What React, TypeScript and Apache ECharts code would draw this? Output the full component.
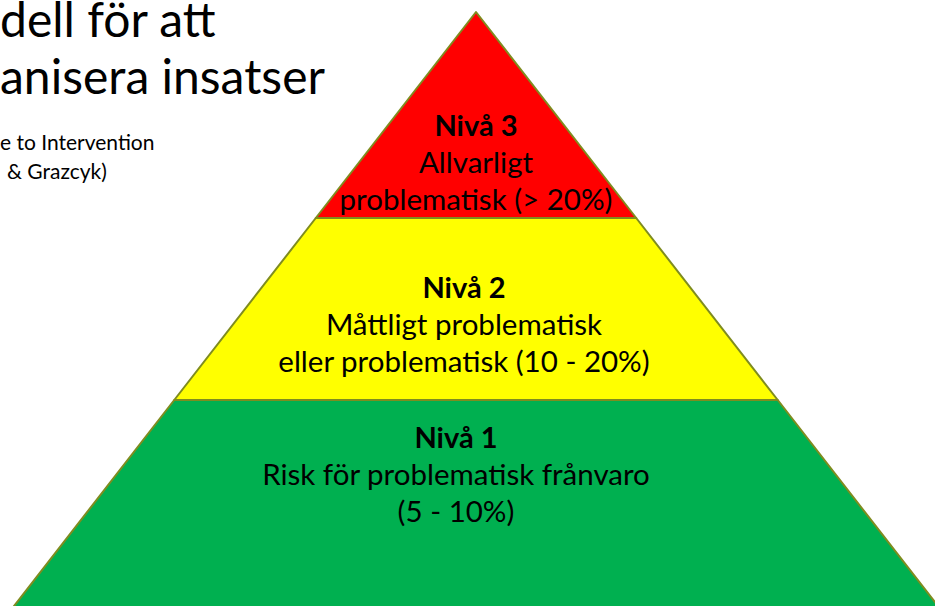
import React, { useEffect, useRef } from "react";
import * as echarts from "echarts";

// Pyramid levels, from base to apex
const levels = ["Nivå 1", "Nivå 2", "Nivå 3"];
const levelLines = [
  ["Risk för problematisk frånvaro", "(5 - 10%)"],
  ["Måttligt problematisk", "eller problematisk (10 - 20%)"],
  ["Allvarligt", "problematisk (> 20%)"],
];
// relative width of each band's lower edge (distance from apex)
const levelValues = [596, 388, 206];
// band heights (px)
const bandHeights = [208, 182, 206];
const colors = ["#00b050", "#ffff00", "#ff0000"];
const labelShiftY = [-31, 14, 46];
const labelShiftX = [-20, -12, 0];

const titleLines = ["dell för att", "anisera insatser"];
const sourceLines = ["e to Intervention", "& Grazcyk)"];

export default function App() {
  const ref = useRef<HTMLDivElement>(null);
  useEffect(() => {
    document.body.style.margin = "0";
    if (!ref.current) return;
    const chart = echarts.init(ref.current, null, { renderer: "svg" });
    const font = "Lato, 'Noto Sans', sans-serif";
    chart.setOption({
      animation: false,
      backgroundColor: "#ffffff",
      graphic: [
        {
          type: "text",
          left: 0,
          top: -6,
          style: { text: titleLines[0], font: `48px ${font}`, fill: "#000" },
        },
        {
          type: "text",
          left: 0,
          top: 51,
          style: { text: titleLines[1], font: `48px ${font}`, fill: "#000" },
        },
        {
          type: "text",
          left: 0,
          top: 131,
          style: { text: sourceLines[0], font: `21px ${font}`, fill: "#000" },
        },
        {
          type: "text",
          left: 7,
          top: 160,
          style: { text: sourceLines[1], font: `21px ${font}`, fill: "#000" },
        },
      ],
      series: [
        {
          type: "funnel",
          sort: "ascending",
          left: 12.5,
          top: 12,
          width: 927,
          height: 596,
          min: 0,
          max: 596,
          minSize: "0%",
          maxSize: "100%",
          gap: 0,
          funnelAlign: "center",
          itemStyle: { borderColor: "#7f8c1f", borderWidth: 2 },
          emphasis: { disabled: true },
          label: {
            show: true,
            position: "inside",
            color: "#000",
            fontFamily: font,
            lineHeight: 37,
            rich: {
              b: { fontSize: 29, fontWeight: "bold", fontFamily: font, lineHeight: 37, color: "#000" },
              n: { fontSize: 29.5, fontFamily: font, lineHeight: 37, color: "#000" },
            },
          },
          labelLine: { show: false },
          data: levels.map((name, i) => {
            const sy = labelShiftY[i];
            const sx = labelShiftX[i];
            return {
              name,
              value: levelValues[i],
              itemStyle: { color: colors[i], height: bandHeights[i] },
              label: {
                formatter: `{b|${name}}\n{n|${levelLines[i][0]}}\n{n|${levelLines[i][1]}}`,
                padding: [
                  sy >= 0 ? 2 * sy : 0,
                  sx < 0 ? -2 * sx : 0,
                  sy < 0 ? -2 * sy : 0,
                  sx > 0 ? 2 * sx : 0,
                ],
              },
            };
          }),
        },
      ],
    });
    return () => chart.dispose();
  }, []);
  return <div ref={ref} style={{ width: 935, height: 606 }} />;
}
